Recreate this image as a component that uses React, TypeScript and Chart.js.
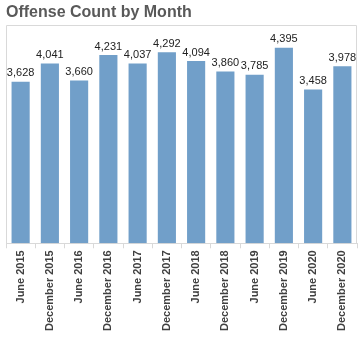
import React, { useEffect, useRef } from "react";
import { Chart, registerables } from "chart.js";

Chart.register(...registerables);

const categories = [
  "June 2015", "December 2015", "June 2016", "December 2016", "June 2017", "December 2017",
  "June 2018", "December 2018", "June 2019", "December 2019", "June 2020", "December 2020",
];
const offenseCounts = [3628, 4041, 3660, 4231, 4037, 4292, 4094, 3860, 3785, 4395, 3458, 3978];
const chartTitle = "Offense Count by Month";

const framePlugin = {
  id: "frame",
  beforeDatasetsDraw(chart: any) {
    const { ctx, chartArea } = chart;
    ctx.save();
    ctx.strokeStyle = "#d9d9d9";
    ctx.lineWidth = 1;
    const l = Math.round(chartArea.left) + 0.5;
    const r = Math.round(chartArea.right) - 0.5;
    const t = Math.round(chartArea.top) + 0.5;
    const b = Math.round(chartArea.bottom);
    ctx.beginPath();
    ctx.moveTo(l, b);
    ctx.lineTo(l, t);
    ctx.lineTo(r, t);
    ctx.lineTo(r, b);
    ctx.stroke();
    ctx.restore();
  },
};

const labelPlugin = {
  id: "valueLabels",
  afterDatasetsDraw(chart: any) {
    const { ctx } = chart;
    const meta = chart.getDatasetMeta(0);
    const data = chart.data.datasets[0].data as number[];
    ctx.save();
    ctx.font = "11px 'Liberation Sans', Arial, sans-serif";
    ctx.fillStyle = "#222222";
    ctx.textAlign = "center";
    ctx.textBaseline = "bottom";
    meta.data.forEach((bar: any, i: number) => {
      ctx.fillText(data[i].toLocaleString("en-US"), bar.x, bar.y - 3);
    });
    ctx.restore();
  },
};

export default function App() {
  const ref = useRef<HTMLCanvasElement>(null);
  useEffect(() => {
    document.body.style.margin = "0";
    const chart = new Chart(ref.current!, {
      type: "bar",
      data: {
        labels: categories,
        datasets: [
          {
            data: offenseCounts,
            backgroundColor: "#719fc9",
            barPercentage: 1,
            categoryPercentage: 0.62,
          },
        ],
      },
      options: {
        animation: false,
        responsive: false,
        maintainAspectRatio: false,
        layout: { padding: { left: 6, right: 5, top: 0, bottom: 14 } },
        plugins: {
          legend: { display: false },
          tooltip: { enabled: false },
          title: {
            display: true,
            text: chartTitle,
            align: "start",
            color: "#595959",
            font: { family: "'Liberation Sans', Arial, sans-serif", size: 16, weight: "bold" },
            padding: { top: 3, bottom: 3 },
          },
        },
        scales: {
          x: {
            offset: true,
            grid: {
              offset: true,
              drawOnChartArea: false,
              drawTicks: true,
              tickLength: 5,
              color: "#d9d9d9",
            },
            border: { display: true, color: "#d9d9d9" },
            ticks: {
              minRotation: 90,
              maxRotation: 90,
              autoSkip: false,
              padding: 2,
              color: "#404040",
              font: { family: "'Liberation Sans', Arial, sans-serif", size: 11, weight: "bold" },
            },
          },
          y: {
            display: false,
            min: 0,
            max: 4900,
          },
        },
      },
      plugins: [framePlugin, labelPlugin],
    });
    return () => chart.destroy();
  }, []);
  return (
    <div style={{ width: 362, height: 347 }}>
      <canvas ref={ref} width={362} height={347} style={{ display: "block" }} />
    </div>
  );
}
